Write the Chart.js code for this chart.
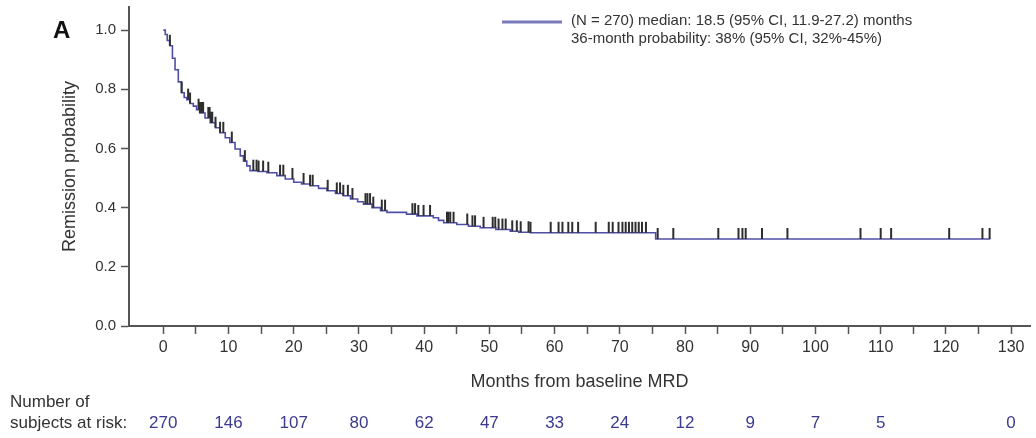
<!DOCTYPE html>
<html>
<head>
<meta charset="utf-8">
<script src="https://cdn.jsdelivr.net/npm/chart.js@4.4.0/dist/chart.umd.min.js"></script>
<style>
  html, body { margin: 0; padding: 0; background: #fff; }
</style>
</head>
<body>
<canvas id="kmChart" width="1036" height="438"></canvas>
<script>
// Kaplan-Meier curve (months, remission probability)
const kmTimes = [0, 0.3, 0.6, 1.0, 1.4, 1.8, 2.3, 2.8, 3.2, 3.6, 4.1, 4.6, 5.1, 5.6, 6.4, 7.2, 8.0, 8.7, 9.5, 10.2,
  11.0, 11.8, 12.3, 12.8, 13.3, 14.5, 15.9, 17.4, 18.7, 20.0, 21.2, 22.5, 23.8, 25.1, 26.4, 27.6, 28.7, 29.8,
  30.7, 32.0, 33.3, 34.3, 37.3, 38.9, 41.4, 42.2, 43.0, 45.0, 46.8, 48.6, 51.0, 53.2, 54.5, 56.3, 75.5, 126.8];
const kmProb = [1.0, 0.985, 0.965, 0.947, 0.905, 0.866, 0.825, 0.788, 0.772, 0.765, 0.752, 0.743, 0.731, 0.72, 0.703,
  0.687, 0.67, 0.653, 0.636, 0.62, 0.598, 0.575, 0.557, 0.541, 0.525, 0.522, 0.518, 0.508, 0.497, 0.486, 0.48,
  0.474, 0.465, 0.457, 0.448, 0.44, 0.429, 0.42, 0.412, 0.4, 0.39, 0.384, 0.378, 0.372, 0.366, 0.357, 0.349,
  0.343, 0.337, 0.332, 0.326, 0.32, 0.317, 0.315, 0.294, 0.294];

// censored subjects (months)
const censorTimes = [1.0, 2.8, 3.8, 4.1, 5.4, 5.6, 5.8, 6.0, 6.1, 6.9, 7.1, 7.3, 7.5, 8.0, 8.7, 9.2, 10.5, 12.5,
  13.8, 14.3, 14.6, 15.3, 16.1, 17.9, 18.4, 19.8, 21.5, 22.5, 22.9, 25.2, 26.6, 27.1, 27.6, 28.3, 29.0, 31.0,
  31.3, 31.7, 32.2, 33.5, 34.0, 38.2, 38.6, 39.1, 39.9, 40.9, 43.5, 43.7, 44.0, 44.5, 46.6, 47.4, 47.8, 49.1,
  50.5, 50.9, 51.4, 52.0, 52.5, 53.5, 54.2, 54.8, 56.0, 56.3, 59.4, 60.6, 61.2, 62.1, 62.7, 63.6, 66.3, 68.3,
  68.9, 69.8, 70.4, 70.9, 71.4, 71.9, 72.4, 72.9, 73.4, 74.0, 75.8, 78.2, 85.1, 88.2, 88.8, 89.3, 91.8, 95.7,
  106.9, 110.0, 111.6, 120.5, 125.6, 126.7];

const xTicks = [0, 5, 10, 15, 20, 25, 30, 35, 40, 45, 50, 55, 60, 65, 70, 75, 80, 85, 90, 95, 100, 105, 110, 115, 120, 125, 130];
const yTicks = [0, 0.2, 0.4, 0.6, 0.8, 1.0];

const riskTimes = [0, 10, 20, 30, 40, 50, 60, 70, 80, 90, 100, 110, 120, 130];
const atRisk = ['270', '146', '107', '80', '62', '47', '33', '24', '12', '9', '7', '5', '', '0'];

const legendLines = [
  '(N = 270) median: 18.5 (95% CI, 11.9-27.2) months',
  '36-month probability: 38% (95% CI, 32%-45%)'
];

const FONT = '"Liberation Sans", Arial, sans-serif';
const curveColor = '#4f4fa6';

function probAt(t) {
  let p = kmProb[0];
  for (let i = 0; i < kmTimes.length; i++) {
    if (kmTimes[i] <= t) p = kmProb[i];
  }
  return p;
}

// small vertical tick standing on the curve
function censorMark() {
  const c = document.createElement('canvas');
  c.width = 4;
  c.height = 24;
  const g = c.getContext('2d');
  g.fillStyle = '#2e2e2e';
  g.fillRect(1, 1, 2, 11);
  return c;
}

const extras = {
  id: 'extras',
  afterDraw(chart) {
    const ctx = chart.ctx;
    const x = chart.scales.x;
    ctx.save();

    ctx.fillStyle = '#111';
    ctx.font = 'bold 24px ' + FONT;
    ctx.textBaseline = 'middle';
    ctx.textAlign = 'left';
    ctx.fillText('A', 53, 31);

    // legend
    ctx.strokeStyle = '#7b7bbb';
    ctx.lineWidth = 3;
    ctx.beginPath();
    ctx.moveTo(502, 22);
    ctx.lineTo(562, 22);
    ctx.stroke();
    ctx.fillStyle = '#333';
    ctx.font = '15px ' + FONT;
    ctx.fillText(legendLines[0], 571, 21);
    ctx.fillText(legendLines[1], 571, 39);

    // number at risk
    ctx.font = '17px ' + FONT;
    ctx.fillStyle = '#333';
    ctx.fillText('Number of', 10, 402);
    ctx.fillText('subjects at risk:', 10, 423);
    ctx.fillStyle = '#3b3b8e';
    ctx.textAlign = 'center';
    riskTimes.forEach((t, i) => {
      ctx.fillText(atRisk[i], x.getPixelForValue(t), 423);
    });
    ctx.restore();
  }
};

const ctx = document.getElementById('kmChart').getContext('2d');
const kmChart = new Chart(ctx, {
  type: 'scatter',
  data: {
    datasets: [
      {
        label: 'Remission',
        data: kmTimes.map((t, i) => ({ x: t, y: kmProb[i] })),
        showLine: true,
        stepped: true,
        borderColor: curveColor,
        borderWidth: 1.6,
        pointRadius: 0,
        order: 2
      },
      {
        label: 'Censored',
        data: censorTimes.map(t => ({ x: t, y: probAt(t) })),
        showLine: false,
        pointStyle: censorMark(),
        pointRadius: 5,
        order: 1
      }
    ]
  },
  options: {
    responsive: false,
    animation: false,
    layout: { padding: { left: 0, right: 6, top: 7, bottom: 45 } },
    plugins: {
      legend: { display: false },
      tooltip: { enabled: false }
    },
    scales: {
      x: {
        type: 'linear',
        min: -5.26,
        max: 132.9,
        afterBuildTicks: s => { s.ticks = xTicks.map(v => ({ value: v })); },
        afterFit: s => { s.height = 67; s.paddingRight = 0; s.paddingLeft = 0; },
        ticks: {
          autoSkip: false,
          maxRotation: 0,
          padding: 4,
          color: '#333',
          font: { family: FONT, size: 16 },
          callback: v => (v % 10 === 0 ? v : '')
        },
        grid: { drawOnChartArea: false, drawTicks: true, tickLength: 8, tickColor: '#555', tickWidth: 1.5 },
        border: { color: '#555', width: 2 },
        title: {
          display: true,
          text: 'Months from baseline MRD',
          color: '#333',
          font: { family: FONT, size: 18 },
          padding: { top: 0, bottom: 0 }
        }
      },
      y: {
        min: 0,
        max: 1.078,
        afterBuildTicks: s => { s.ticks = yTicks.map(v => ({ value: v })); },
        afterFit: s => { s.width = 129; s.paddingTop = 0; s.paddingBottom = 0; },
        ticks: {
          padding: 5,
          color: '#333',
          font: { family: FONT, size: 15 },
          callback: v => v.toFixed(1)
        },
        grid: { drawOnChartArea: false, drawTicks: true, tickLength: 8, tickColor: '#555', tickWidth: 1.5 },
        border: { color: '#555', width: 2 },
        title: {
          display: true,
          text: 'Remission probability',
          color: '#333',
          font: { family: FONT, size: 18 },
          padding: { top: 59, bottom: 0 }
        }
      }
    }
  },
  plugins: [extras]
});
</script>
</body>
</html>
